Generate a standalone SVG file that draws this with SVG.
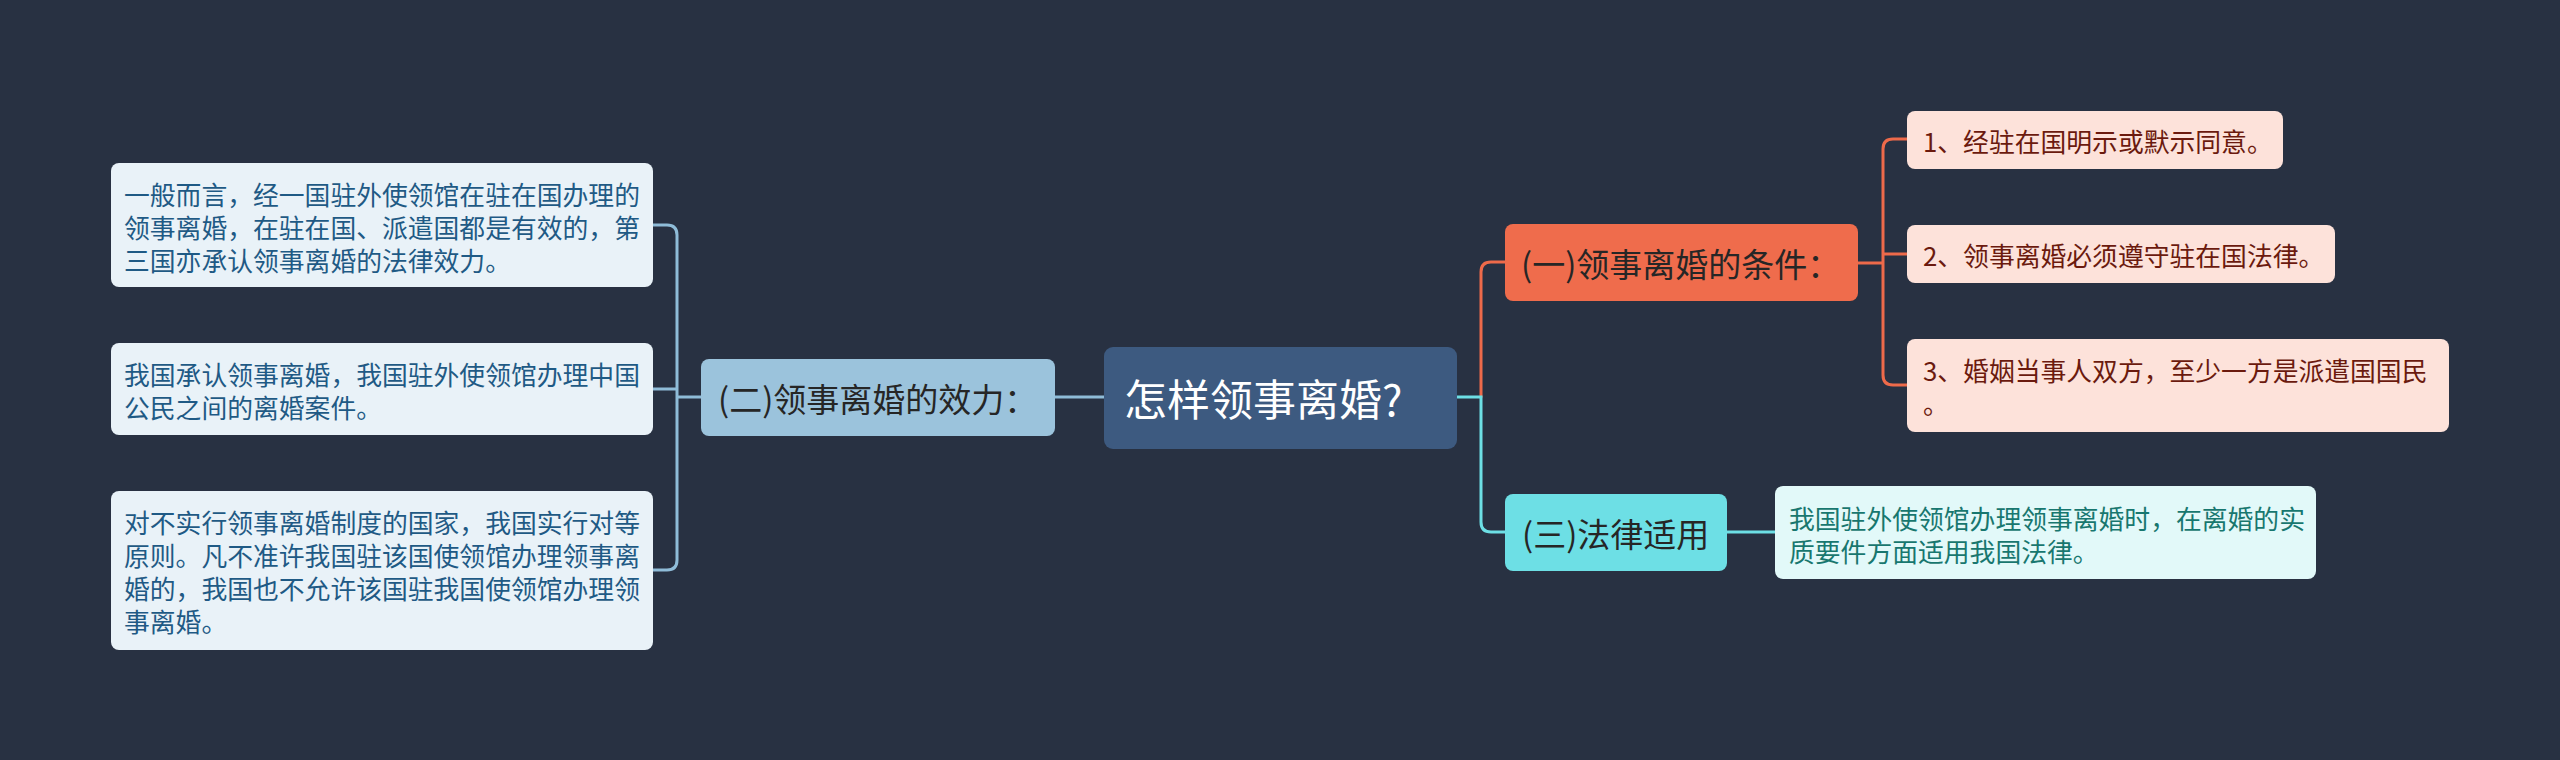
<svg xmlns="http://www.w3.org/2000/svg" width="2560" height="760" viewBox="0 0 2560 760">
<style>
text{font-family:"Noto Sans CJK SC","Noto Sans",sans-serif;dominant-baseline:central}
.c{fill:none;stroke-width:3;stroke-linecap:round}
.cb{stroke:#8fbcd8}.co{stroke:#ee6a4a}.cc{stroke:#6ddfe5}
.lb rect{fill:#e9f2f8}.lb text{fill:#1f5a85;font-size:25.8px}
.ob rect{fill:#fde2da}.ob text{fill:#6b1a0e;font-size:25.8px}
.tb rect{fill:#e2f9f9}.tb text{fill:#18776f;font-size:25.8px}
.l1 text{font-size:33px;fill:#262626}
</style>
<rect width="2560" height="760" fill="#283142"/>
<g id="connectors">
<path class="c cb" d="M702,397 H677 M677,560 V235 Q677,225 667,225 H653 M677,389 H653 M677,560 Q677,570 667,570 H653"/>
<path class="c cb" d="M1055,397 H1104"/>
<path class="c co" d="M1481,397 V272 Q1481,262 1491,262 H1505"/>
<path class="c cc" d="M1457,397 H1481 V522 Q1481,532 1491,532 H1505"/>
<path class="c co" d="M1858,263 H1883 M1883,375 V149 Q1883,139 1893,139 H1907 M1883,254 H1907 M1883,375 Q1883,385 1893,385 H1907"/>
<path class="c cc" d="M1727,532 H1775"/>
</g>
<g id="root">
<rect x="1104" y="347" width="353" height="102" rx="9" fill="#3d5a80"/>
<text x="1124" y="397" font-size="43" fill="#ffffff">怎样领事离婚?</text>
</g>
<g id="n2" class="l1">
<rect x="701" y="359" width="354" height="77" rx="8" fill="#9bc3dc"/>
<text x="718" y="398">(二)领事离婚的效力：</text>
</g>
<g id="n2a" class="lb">
<rect x="111" y="163" width="542" height="124" rx="8"/>
<text x="124" y="193">一般而言，经一国驻外使领馆在驻在国办理的</text>
<text x="124" y="226">领事离婚，在驻在国、派遣国都是有效的，第</text>
<text x="124" y="259">三国亦承认领事离婚的法律效力。</text>
</g>
<g id="n2b" class="lb">
<rect x="111" y="343" width="542" height="92" rx="8"/>
<text x="124" y="373">我国承认领事离婚，我国驻外使领馆办理中国</text>
<text x="124" y="406">公民之间的离婚案件。</text>
</g>
<g id="n2c" class="lb">
<rect x="111" y="491" width="542" height="159" rx="8"/>
<text x="124" y="521">对不实行领事离婚制度的国家，我国实行对等</text>
<text x="124" y="554">原则。凡不准许我国驻该国使领馆办理领事离</text>
<text x="124" y="587">婚的，我国也不允许该国驻我国使领馆办理领</text>
<text x="124" y="620">事离婚。</text>
</g>
<g id="n1" class="l1">
<rect x="1505" y="224" width="353" height="77" rx="8" fill="#ef6c4c"/>
<text x="1521" y="263">(一)领事离婚的条件：</text>
</g>
<g id="n1a" class="ob">
<rect x="1907" y="111" width="376" height="58" rx="8"/>
<text x="1923" y="140">1、经驻在国明示或默示同意。</text>
</g>
<g id="n1b" class="ob">
<rect x="1907" y="225" width="428" height="58" rx="8"/>
<text x="1923" y="254">2、领事离婚必须遵守驻在国法律。</text>
</g>
<g id="n1c" class="ob">
<rect x="1907" y="339" width="542" height="93" rx="8"/>
<text x="1923" y="369">3、婚姻当事人双方，至少一方是派遣国国民</text>
<text x="1923" y="402">。</text>
</g>
<g id="n3" class="l1">
<rect x="1505" y="494" width="222" height="77" rx="8" fill="#6ddfe5"/>
<text x="1522" y="533">(三)法律适用</text>
</g>
<g id="n3a" class="tb">
<rect x="1775" y="486" width="541" height="93" rx="8"/>
<text x="1789" y="517">我国驻外使领馆办理领事离婚时，在离婚的实</text>
<text x="1789" y="550">质要件方面适用我国法律。</text>
</g>
</svg>
